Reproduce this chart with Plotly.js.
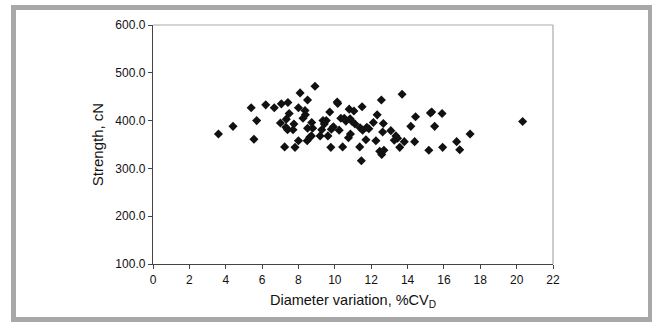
<!DOCTYPE html>
<html>
<head>
<meta charset="utf-8">
<script src="https://cdn.plot.ly/plotly-3.0.1.min.js"></script>
<style>
html,body{margin:0;padding:0;background:#fff;}
#frame{position:absolute;left:11px;top:5px;width:641px;height:317px;box-sizing:border-box;border:5px solid #a8a8a8;border-right-width:4px;}
#chart{position:absolute;left:0;top:0;width:652px;height:322px;}
</style>
</head>
<body>
<div id="frame"></div>
<div id="chart"></div>
<script>
const diameterCV = [3.6,4.4,5.4,5.55,5.7,6.2,6.67,7.01,7.06,7.24,7.33,7.31,7.42,7.49,7.4,7.7,7.75,7.81,8.0,8.0,8.09,8.25,8.36,8.38,8.48,8.5,8.5,8.62,8.71,8.73,8.78,8.91,9.19,9.28,9.35,9.42,9.53,9.62,9.72,9.78,9.81,9.92,10.13,10.16,10.24,10.33,10.43,10.52,10.61,10.75,10.79,10.84,10.86,10.95,11.05,11.11,11.39,11.37,11.46,11.5,11.53,11.71,11.76,11.87,12.12,12.26,12.33,12.47,12.56,12.58,12.63,12.67,12.7,13.08,13.27,13.36,13.45,13.57,13.7,13.82,14.18,14.39,14.44,15.17,15.26,15.33,15.49,15.93,15.9,16.7,16.87,17.44,20.33];
const strength = [372,388,427,361,400,433,427,395,435,345,403,386,438,415,381,381,393,344,427,358,458,405,421,412,358,443,384,365,368,396,384,472,368,381,400,393,400,368,418,344,382,387,439,436,380,405,345,405,399,364,424,404,372,398,420,393,385,345,316,429,380,360,386,383,396,358,412,336,443,329,376,394,338,379,359,368,363,344,455,356,388,356,408,338,416,418,388,344,415,356,339,372,398];
const xTitle = 'Diameter variation, %CV<sub>D</sub>';
const yTitle = 'Strength, cN';

const font = 'Arial, Liberation Sans, sans-serif';
Plotly.newPlot('chart', [{
  type: 'scatter', mode: 'markers', x: diameterCV, y: strength,
  marker: {symbol: 'diamond', size: 7, color: '#111'},
  hoverinfo: 'skip'
}], {
  width: 652, height: 322,
  margin: {l: 153, r: 99, t: 25, b: 58},
  paper_bgcolor: 'rgba(0,0,0,0)', plot_bgcolor: 'rgba(0,0,0,0)',
  showlegend: false,
  font: {family: font, color: '#111', size: 12},
  xaxis: {range: [0, 22], dtick: 2, tick0: 0, ticks: 'outside', ticklen: 4, tickcolor: '#444',
    showline: true, linecolor: '#444', linewidth: 1.2, showgrid: false, zeroline: false,
    tickfont: {size: 12}, title: {text: xTitle, font: {size: 14.5}, standoff: 9}},
  yaxis: {range: [100, 600], dtick: 100, tick0: 100, ticks: 'outside', ticklen: 4, tickcolor: '#444',
    showline: true, linecolor: '#444', linewidth: 1.2, showgrid: false, zeroline: false,
    tickformat: '.1f', tickfont: {size: 12}, title: {text: yTitle, font: {size: 15}, standoff: 8}},
  shapes: [
    {type: 'line', xref: 'paper', yref: 'paper', x0: 0, x1: 1, y0: 1, y1: 1, line: {color: '#aaa', width: 1.2}},
    {type: 'line', xref: 'paper', yref: 'paper', x0: 1, x1: 1, y0: 0, y1: 1, line: {color: '#aaa', width: 1.2}}
  ]
}, {staticPlot: true});
</script>
</body>
</html>
